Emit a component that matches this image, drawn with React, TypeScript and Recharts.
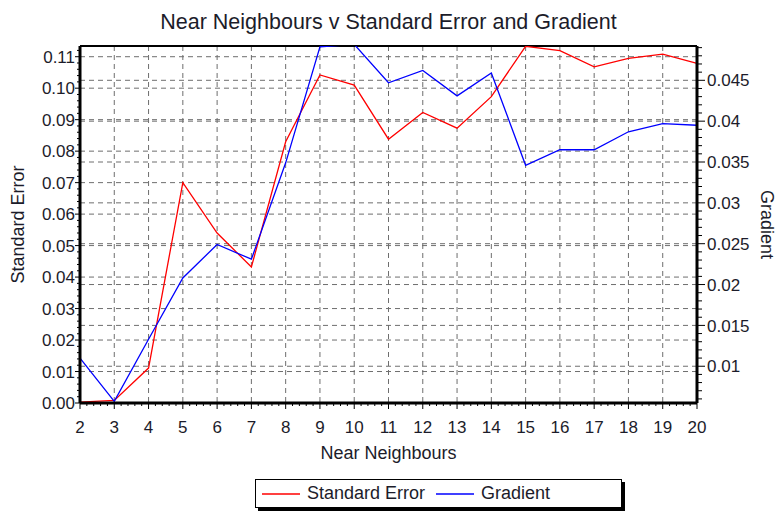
import React from 'react';
import { LineChart, Line, XAxis, YAxis, CartesianGrid, ReferenceLine } from 'recharts';

// values
const neighbours = [2, 3, 4, 5, 6, 7, 8, 9, 10, 11, 12, 13, 14, 15, 16, 17, 18, 19, 20];
const standardError = [0.0003, 0.0008, 0.0111, 0.07, 0.054, 0.0432, 0.083, 0.1042, 0.101, 0.0838, 0.0923, 0.0873, 0.0973, 0.1133, 0.1119, 0.1068, 0.1095, 0.1108, 0.1079];
const gradient = [0.011, 0.0057, 0.0133, 0.0208, 0.0249, 0.0231, 0.0349, 0.0491, 0.0494, 0.0447, 0.0462, 0.0431, 0.0459, 0.0346, 0.0365, 0.0365, 0.0387, 0.0397, 0.0395];

const seTicks = [0, 0.01, 0.02, 0.03, 0.04, 0.05, 0.06, 0.07, 0.08, 0.09, 0.1, 0.11];
const gradTicks = [0.01, 0.015, 0.02, 0.025, 0.03, 0.035, 0.04, 0.045];
const seDomain: [number, number] = [0, 0.1134];
const gradDomain: [number, number] = [0.0055, 0.0492];

const data = neighbours.map((k, i) => ({ k, se: standardError[i], grad: gradient[i] }));

// plot frame
const W = 777;
const H = 470;
const LEFT = 80;
const RIGHT = 697;
const TOP = 46;
const BOTTOM = 403;
const PLOT_H = BOTTOM - TOP;

const FONT = '"Liberation Sans", Arial, sans-serif';
const TXT = '#1c1c2a';
const GRID = '#6e6e6e';

const seStep = (0.002 / (seDomain[1] - seDomain[0])) * PLOT_H;
const gradStep = (0.001 / (gradDomain[1] - gradDomain[0])) * PLOT_H;
const xStep = (RIGHT - LEFT) / (neighbours.length - 1) / 5;

const minorYs = (y: number, step: number, first: boolean) => {
  const out: number[] = [];
  for (let j = 1; j < 5; j++) {
    if (y - j * step >= TOP) out.push(y - j * step);
    if (first && y + j * step <= BOTTOM) out.push(y + j * step);
  }
  return out;
};

const LeftTick = (p: any) => {
  const y = p.y;
  return (
    <g>
      <line x1={LEFT - 5} x2={LEFT} y1={y} y2={y} stroke="#000" />
      {minorYs(y, seStep, p.index === 0).map((m, i) => (
        <line key={i} x1={LEFT - 3} x2={LEFT} y1={m} y2={m} stroke="#000" />
      ))}
      <text x={LEFT - 5} y={y} dy="0.36em" textAnchor="end" fontSize={17} fill={TXT} fontFamily={FONT}>
        {p.payload.value.toFixed(2)}
      </text>
    </g>
  );
};

const RightTick = (p: any) => {
  const y = p.y;
  return (
    <g>
      <line x1={RIGHT} x2={RIGHT + 8} y1={y} y2={y} stroke="#000" />
      {minorYs(y, gradStep, p.index === 0).map((m, i) => (
        <line key={i} x1={RIGHT} x2={RIGHT + 5} y1={m} y2={m} stroke="#000" />
      ))}
      <text x={RIGHT + 10} y={y} dy="0.36em" textAnchor="start" fontSize={17} fill={TXT} fontFamily={FONT}>
        {String(p.payload.value)}
      </text>
    </g>
  );
};

const BottomTick = (p: any) => {
  const x = p.x;
  const last = p.payload.value === neighbours[neighbours.length - 1];
  return (
    <g>
      <line x1={x} x2={x} y1={BOTTOM} y2={BOTTOM + 6} stroke="#000" />
      {!last && [1, 2, 3, 4].map((j) => (
        <line key={j} x1={x + j * xStep} x2={x + j * xStep} y1={BOTTOM} y2={BOTTOM + 3} stroke="#000" />
      ))}
      <text x={x} y={BOTTOM + 30} textAnchor="middle" fontSize={17} fill={TXT} fontFamily={FONT}>
        {p.payload.value}
      </text>
    </g>
  );
};

const LegendItem = ({ color, label, width }: { color: string; label: string; width: number }) => (
  <span style={{ display: 'inline-flex', alignItems: 'center', width }}>
    <svg width={38} height={4} style={{ marginLeft: 6 }}>
      <line x1={0} x2={38} y1={2} y2={2} stroke={color} strokeWidth={1.3} />
    </svg>
    <span style={{ marginLeft: 7 }}>{label}</span>
  </span>
);

export default function App() {
  return (
    <div style={{ position: 'absolute', left: 0, top: 0, width: W, height: 511, background: '#fff', fontFamily: FONT, color: TXT }}>
      <div style={{ position: 'absolute', left: 0, top: 10, width: W, textAlign: 'center', fontSize: 21.5 }}>
        Near Neighbours v Standard Error and Gradient
      </div>
      <LineChart width={W} height={H} data={data} margin={{ top: TOP, right: 0, left: 0, bottom: 0 }}>
        <CartesianGrid yAxisId="se" stroke={GRID} strokeDasharray="5 4" />
        <CartesianGrid yAxisId="grad" vertical={false} stroke={GRID} strokeDasharray="5 4" />
        <XAxis
          dataKey="k"
          type="number"
          domain={[2, 20]}
          ticks={neighbours}
          interval={0}
          height={H - BOTTOM}
          axisLine={{ stroke: '#000', strokeWidth: 3 }}
          tickLine={false}
          tick={BottomTick}
          label={{ value: 'Near Neighbours', position: 'center', dy: 16, fill: TXT, fontSize: 18, fontFamily: FONT }}
        />
        <YAxis
          yAxisId="se"
          domain={seDomain}
          ticks={seTicks}
          interval={0}
          allowDataOverflow
          width={LEFT}
          axisLine={{ stroke: '#000', strokeWidth: 3 }}
          tickLine={false}
          tick={LeftTick}
          label={{ value: 'Standard Error', angle: -90, position: 'center', dx: -22, fill: TXT, fontSize: 18, fontFamily: FONT }}
        />
        <YAxis
          yAxisId="grad"
          orientation="right"
          domain={gradDomain}
          ticks={gradTicks}
          interval={0}
          allowDataOverflow
          width={W - RIGHT}
          axisLine={{ stroke: '#000', strokeWidth: 3 }}
          tickLine={false}
          tick={RightTick}
          label={{ value: 'Gradient', angle: 90, position: 'center', dx: 30, fill: TXT, fontSize: 18, fontFamily: FONT }}
        />
        <ReferenceLine yAxisId="se" y={seDomain[1]} stroke="#000" strokeWidth={2} ifOverflow="extendDomain" />
        <Line yAxisId="se" dataKey="se" stroke="#ff0000" strokeWidth={1.3} dot={false} isAnimationActive={false} />
        <Line yAxisId="grad" dataKey="grad" stroke="#0000ff" strokeWidth={1.3} dot={false} isAnimationActive={false} />
      </LineChart>
      <div
        style={{
          position: 'absolute', left: 255, top: 479, width: 365, height: 27, border: '1px solid #000',
          boxShadow: '3px 3px 0 #000', display: 'flex', alignItems: 'center', fontSize: 18, background: '#fff',
        }}
      >
        <LegendItem color="#ff0000" label="Standard Error" width={174} />
        <LegendItem color="#0000ff" label="Gradient" width={150} />
      </div>
    </div>
  );
}
